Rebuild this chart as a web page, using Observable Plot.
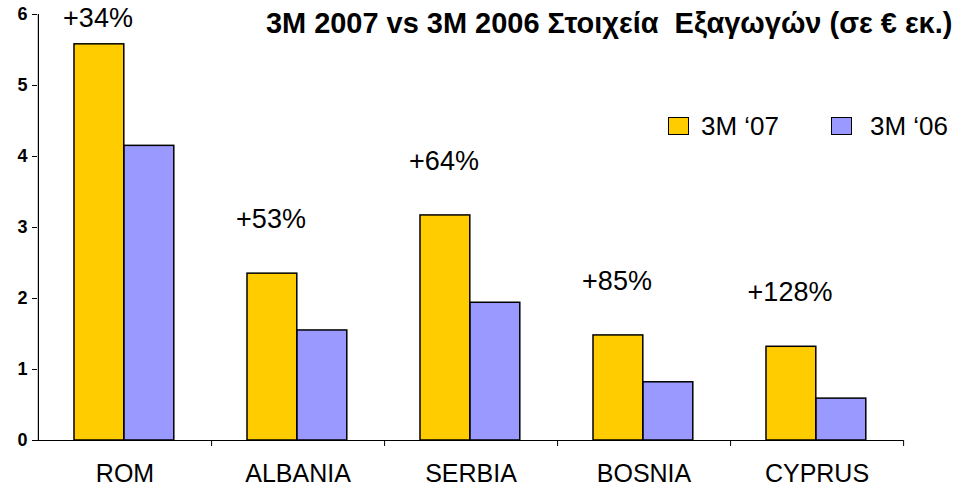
<!DOCTYPE html>
<html><head><meta charset="utf-8">
<script src="https://cdn.jsdelivr.net/npm/d3@7"></script>
<script src="https://cdn.jsdelivr.net/npm/@observablehq/plot@0.6"></script>
<style>
body{margin:0;background:#fff;font-family:"Liberation Sans",Arial,sans-serif;}
#wrap{position:relative;width:968px;height:488px;}
#title{position:absolute;right:16px;top:5px;font-family:"Liberation Sans",Arial,sans-serif;font-weight:bold;font-size:30px;white-space:pre;color:#000;line-height:36px;transform-origin:right center;transform:scaleX(0.965);}
.lg{position:absolute;top:110px;font-size:26px;line-height:32px;display:flex;align-items:center;}
.sw{width:19px;height:16px;border:1.5px solid #000;margin-right:12px;}
</style></head>
<body><div id="wrap"><div id="chart"></div>
<div id="title">3M 2007 vs 3M 2006 Στοιχεία  Εξαγωγών (σε € εκ.)</div>
<div class="lg" style="left:668px"><div class="sw" style="background:#FFCC00"></div>3M ‘07</div>
<div class="lg" style="left:831px"><div class="sw" style="background:#9999FF;margin-right:18px"></div>3M ‘06</div>
</div>
<script>
const categories = ["ROM","ALBANIA","SERBIA","BOSNIA","CYPRUS"];
const values07 = [5.58, 2.35, 3.17, 1.48, 1.32];
const values06 = [4.15, 1.55, 1.94, 0.82, 0.59];
const growth = ["+34%","+53%","+64%","+85%","+128%"];
const yTicks = [0,1,2,3,4,5,6];

const W = 968, H = 488, mL = 37, mR = 65, mT = 14, mB = 48;
const bw = (W - mL - mR) / categories.length;
const data07 = categories.map((c,i)=>({c, v: values07[i], g: growth[i]}));
const data06 = categories.map((c,i)=>({c, v: values06[i]}));

const chart = Plot.plot({
  width: W, height: H,
  marginLeft: mL, marginRight: mR, marginTop: mT, marginBottom: mB,
  style: {fontFamily: '"Liberation Sans", Arial, sans-serif', color: "#000", background: "#fff", overflow: "visible"},
  x: {domain: categories, padding: 0},
  y: {domain: [0, 6]},
  marks: [
    Plot.barY(data07, {x: "c", y: "v", fill: "#FFCC00", stroke: "#000", strokeWidth: 1.5, insetLeft: 36, insetRight: bw - 86}),
    Plot.barY(data06, {x: "c", y: "v", fill: "#9999FF", stroke: "#000", strokeWidth: 1.5, insetLeft: 86, insetRight: bw - 136}),
    Plot.ruleY([0], {stroke: "#000", strokeWidth: 1.2}),
    Plot.ruleX([categories[0]], {dx: -bw/2, y1: 0, y2: 6, stroke: "#000", strokeWidth: 1.2}),
    Plot.ruleX(categories, {x: d => d, dx: bw/2, y1: 0, y2: 0, insetBottom: -6, stroke: "#000", strokeWidth: 1}),
    Plot.text(data07, {x: "c", y: d => Math.min(d.v + 0.76, 5.94), text: "g", dx: -27, fontSize: 27, fill: "#000"}),
    Plot.axisY(yTicks, {tickSize: 5, tickPadding: 5, fontSize: 18, fontWeight: "bold", stroke: "#000", tickFormat: d3.format("d"), label: null}),
    Plot.axisX({tickSize: 0, tickPadding: 24, fontSize: 25, label: null})
  ]
});
document.getElementById("chart").appendChild(chart);
</script>
</body></html>
